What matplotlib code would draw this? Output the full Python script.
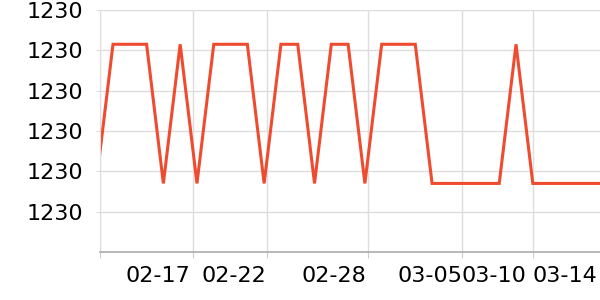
import matplotlib.pyplot as plt

# one value per day, index 0 = 02-14
hi = 1230.215
lo = 1229.87
values = [lo, hi, hi, hi, lo, hi, lo, hi, hi, hi, lo, hi, hi, lo, hi, hi,
          lo, hi, hi, hi, lo, lo, lo, lo, lo, hi, lo, lo, lo, lo, lo]
x = list(range(len(values)))

y_ticks = [1229.8, 1229.9, 1230.0, 1230.1, 1230.2, 1230.3]
grid_x = [5.76, 10.17, 16.2, 21.8, 26.0]
label_x = [3.68, 8.2, 14.15, 19.9, 23.7, 27.9]
date_labels = ["02-17", "02-22", "02-28", "03-05", "03-10", "03-14"]

fig = plt.figure(figsize=(6, 3), dpi=100)
ax = fig.add_axes([100 / 600, 48 / 300, 500 / 600, 242 / 300])

ax.plot(x, values, color='#ef4b2e', linewidth=2.2, solid_joinstyle='miter', clip_on=True)

ax.set_xlim(0.226, 30)
ax.set_ylim(1229.7, 1230.3)

ax.set_yticks(y_ticks)
ax.set_yticklabels(["%.0f" % v for v in y_ticks])
ax.set_xticks([0.226] + grid_x)
ax.set_xticklabels([])
ax.set_xticks(label_x, minor=True)
ax.set_xticklabels(date_labels, minor=True)

ax.grid(True, which='major', color='#dddddd', linewidth=1)
ax.set_axisbelow(True)

for s in ['top', 'right']:
    ax.spines[s].set_visible(False)
ax.spines['left'].set_color('#dddddd')
ax.spines['bottom'].set_color('#aaaaaa')
ax.spines['bottom'].set_linewidth(1.2)

ax.tick_params(axis='y', length=3, color='#dddddd', labelsize=16, pad=9)
ax.tick_params(axis='x', which='major', length=4, color='#cccccc', direction='out')
ax.tick_params(axis='x', which='minor', length=0, labelsize=16, pad=10)

plt.savefig('out.png', dpi=100)
